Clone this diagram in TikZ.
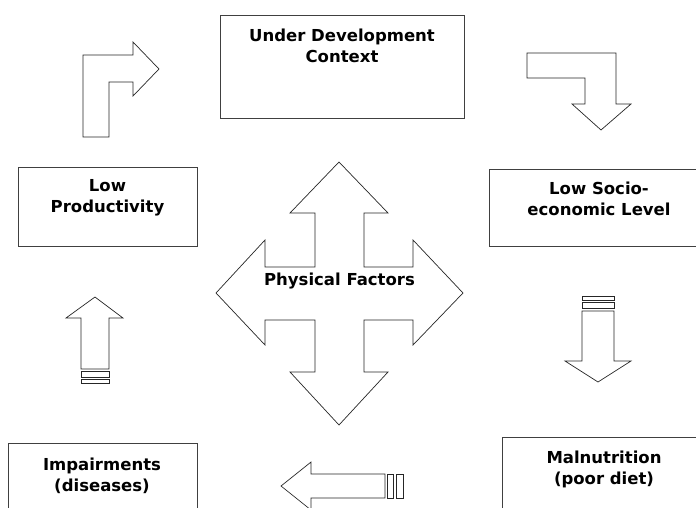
\documentclass[tikz,border=0pt]{standalone}
\usepackage{fontspec}
\setmainfont{DejaVu Sans}
\begin{document}
\begin{tikzpicture}[x=1pt, y=-1pt, line join=miter,
  box node/.style={rectangle, draw=black!75, line width=0.9pt, inner sep=0pt, anchor=north west},
  text node/.style={font=\fontsize{16.5}{21}\selectfont\bfseries, align=center, inner sep=0pt, anchor=north},
  block arrow/.style={draw=black!85, line width=0.7pt, fill=white}]
\useasboundingbox (0,0) rectangle (696,508);

% boxes
\node [box node, minimum width=244, minimum height=103] (udc) at (220,15) {};
\node [box node, minimum width=179, minimum height=79] (lowprod) at (18,167) {};
\node [box node, minimum width=220, minimum height=77] (socio) at (489,169) {};
\node [box node, minimum width=189, minimum height=80] (impair) at (8,443) {};
\node [box node, minimum width=210, minimum height=90] (malnut) at (502,437) {};

\node [text node] (udc text) at (342,28.5) {Under Development\\Context};
\node [text node] (lowprod text) at (107.5,179.5) {Low\\Productivity};
\node [text node] (socio text) at (599,181.5) {Low Socio-\\economic Level};
\node [text node] (impair text) at (102,458) {Impairments\\(diseases)};
\node [text node] (malnut text) at (604,450.5) {Malnutrition\\(poor diet)};

% bent arrows
\draw [block arrow] (83,137) -- (83,55) -- (133,55) -- (133,42) -- (159,69) -- (133,96) -- (133,82) -- (109,82) -- (109,137) -- cycle;
\draw [block arrow] (527,53) -- (616,53) -- (616,104) -- (631,104) -- (601,130) -- (572,104) -- (585,104) -- (585,78) -- (527,78) -- cycle;

% striped arrows
\draw [block arrow] (582,296) rectangle (614,300);
\draw [block arrow] (582,302) rectangle (614,308);
\draw [block arrow] (582,311) -- (614,311) -- (614,361) -- (631,361) -- (598,382) -- (565,361) -- (582,361) -- cycle;

\draw [block arrow] (95,297) -- (123,318) -- (109,318) -- (109,369) -- (81,369) -- (81,318) -- (66,318) -- cycle;
\draw [block arrow] (81,371) rectangle (109,377);
\draw [block arrow] (81,379) rectangle (109,383);

\draw [block arrow] (281,486) -- (311,462) -- (311,474) -- (385,474) -- (385,498) -- (311,498) -- (311,510) -- cycle;
\draw [block arrow] (387,474) rectangle (393,498);
\draw [block arrow] (396,474) rectangle (403,498);

% four-way arrow
\draw [block arrow] (339,162) -- (388,213) -- (364,213) -- (364,267) -- (413,267) -- (413,240) -- (463,293)
  -- (413,345) -- (413,320) -- (364,320) -- (364,372) -- (388,372) -- (339,425) -- (290,372) -- (315,372)
  -- (315,320) -- (265,320) -- (265,345) -- (216,293) -- (265,240) -- (265,267) -- (315,267) -- (315,213)
  -- (290,213) -- cycle;
\node [text node, anchor=base] (phys) at (339.5,285) {Physical Factors};
\end{tikzpicture}
\end{document}
